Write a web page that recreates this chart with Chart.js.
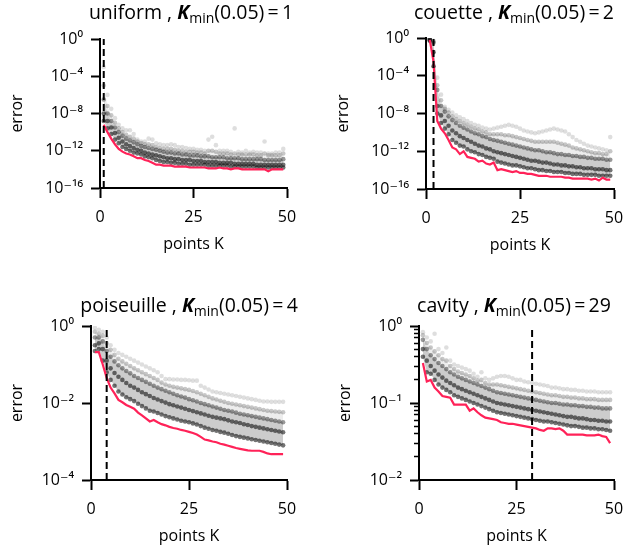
<!DOCTYPE html>
<html>
<head>
<meta charset="utf-8">
<script src="https://cdn.jsdelivr.net/npm/chart.js@4.4.1/dist/chart.umd.min.js"></script>
<style>
  body { margin: 0; background: #fff; }
  #page { position: relative; width: 624px; height: 546px; overflow: hidden; font-family: 'Open Sans', 'DejaVu Sans', sans-serif; }
  .panel { position: absolute; width: 312px; height: 273px; }
  .title { position: absolute; width: 300px; text-align: center; white-space: nowrap; font-size: 19.5px; line-height: 22px; color: #000; }
  .title sub { font-size: 14px; vertical-align: -4px; line-height: 0; }
</style>
</head>
<body>
<div id="page"></div>
<script>
// panel names and the K_min(0.05) value of each panel
const panelNames = ['uniform', 'couette', 'poiseuille', 'cavity'];
const kMin = [1, 2, 4, 29];

// number of points K (x values of every series)
const kPoints = [1,2,3,4,5,6,7,8,9,10,11,12,13,14,15,16,17,18,19,20,21,22,23,24,25,
  26,27,28,29,30,31,32,33,34,35,36,37,38,39,40,41,42,43,44,45,46,47,48,49];

// all errors are stored as log10(error)

// ---- uniform ----
const uniformBest = [-9.2,-10.0,-10.7,-11.3,-11.8,-12.1,-12.3,-12.4,-12.6,-12.8,
  -12.8,-13.0,-13.1,-13.3,-13.5,-13.5,-13.6,-13.6,-13.6,-13.7,
  -13.7,-13.7,-13.7,-13.8,-13.8,-13.8,-13.8,-13.8,-13.9,-13.9,
  -13.9,-13.8,-13.9,-13.9,-14.0,-13.9,-13.9,-14.0,-14.0,-14.0,
  -14.0,-14.0,-14.0,-14.0,-14.2,-14.0,-14.0,-14.0,-14.0];
const uniformLo = [-8.8,-9.6,-10.2,-10.8,-11.2,-11.6,-11.8,-12.0,-12.2,-12.3,
  -12.4,-12.6,-12.7,-12.8,-13.0,-13.1,-13.2,-13.2,-13.3,-13.3,
  -13.4,-13.4,-13.4,-13.5,-13.5,-13.5,-13.5,-13.5,-13.6,-13.6,
  -13.6,-13.6,-13.6,-13.6,-13.7,-13.7,-13.7,-13.7,-13.7,-13.7,
  -13.7,-13.8,-13.8,-13.8,-13.8,-13.8,-13.8,-13.8,-13.8];
const uniformMid = [-8.0,-8.8,-9.5,-10.1,-10.6,-11.0,-11.3,-11.5,-11.7,-11.9,
  -12.0,-12.2,-12.3,-12.4,-12.5,-12.6,-12.7,-12.8,-12.8,-12.9,
  -12.9,-13.0,-13.0,-13.0,-13.1,-13.1,-13.1,-13.2,-13.2,-13.2,
  -13.2,-13.3,-13.3,-13.3,-13.3,-13.4,-13.4,-13.4,-13.4,-13.4,
  -13.4,-13.5,-13.5,-13.5,-13.5,-13.5,-13.5,-13.5,-13.5];
const uniformHi = [-6.5,-8.0,-8.8,-9.5,-10.0,-10.4,-10.7,-10.9,-11.1,-11.3,
  -11.5,-11.6,-11.7,-11.8,-11.9,-12.0,-12.1,-12.2,-12.2,-12.3,
  -12.3,-12.4,-12.4,-12.5,-12.5,-12.5,-12.6,-12.6,-12.6,-12.7,
  -12.7,-12.7,-12.7,-12.8,-12.8,-12.8,-12.8,-12.9,-12.9,-12.9,
  -12.9,-12.9,-12.9,-13.0,-13.0,-13.0,-13.0,-13.0,-12.9];
const uniformUp = [-5.0,-7.2,-8.2,-9.0,-9.6,-10.0,-10.3,-10.5,-10.7,-11.0,
  -11.2,-11.3,-11.3,-11.4,-11.6,-11.7,-11.8,-11.8,-11.8,-11.9,
  -12.0,-12.0,-12.1,-12.1,-12.1,-12.2,-12.2,-12.3,-12.0,-12.0,
  -12.1,-12.3,-12.3,-12.3,-12.4,-12.3,-12.4,-12.4,-12.4,-12.4,
  -12.4,-12.5,-12.5,-12.3,-12.5,-12.5,-12.5,-12.5,-12.3];
const uniformTop = [-3.0,-6.0,-7.5,-8.5,-9.2,-9.6,-9.8,-9.8,-10.2,-10.8,
  -11.0,-11.0,-10.7,-10.8,-11.2,-11.3,-11.4,-11.4,-11.3,-11.4,
  -11.6,-11.6,-11.7,-11.8,-11.8,-11.9,-11.9,-12.0,-10.8,-10.5,
  -11.4,-12.0,-12.0,-12.0,-12.1,-9.6,-12.1,-12.2,-12.0,-12.2,
  -12.1,-12.2,-12.2,-11.0,-12.3,-12.3,-12.2,-12.2,-11.8];

// ---- couette ----
const couetteBest = [-0.2,-2.5,-8.8,-9.6,-10.1,-10.8,-11.6,-11.8,-12.3,-12.0,
  -12.6,-12.7,-12.8,-13.1,-13.0,-13.3,-13.4,-13.2,-14.0,-13.9,
  -14.0,-14.1,-14.2,-14.1,-14.3,-14.3,-14.4,-14.4,-14.5,-14.6,
  -14.6,-14.6,-14.7,-14.7,-14.7,-14.7,-14.8,-14.8,-14.9,-14.9,
  -14.9,-14.9,-14.9,-15.0,-14.9,-15.1,-14.8,-15.0,-15.0];
const couetteLo = [-0.3,-3.0,-8.0,-9.0,-9.6,-10.2,-10.8,-11.1,-11.4,-11.5,
  -11.8,-12.0,-12.1,-12.3,-12.4,-12.6,-12.7,-12.8,-13.1,-13.2,
  -13.3,-13.4,-13.5,-13.5,-13.6,-13.7,-13.8,-13.8,-13.9,-14.0,
  -14.0,-14.1,-14.1,-14.2,-14.2,-14.2,-14.3,-14.3,-14.4,-14.4,
  -14.4,-14.5,-14.5,-14.5,-14.5,-14.6,-14.6,-14.6,-14.6];
const couetteMid = [-0.2,-1.5,-7.2,-8.2,-8.8,-9.3,-9.8,-10.1,-10.4,-10.6,
  -10.8,-11.0,-11.2,-11.4,-11.5,-11.7,-11.8,-12.0,-12.1,-12.2,
  -12.3,-12.4,-12.5,-12.6,-12.7,-12.8,-12.9,-13.0,-13.0,-13.1,
  -13.2,-13.2,-13.3,-13.4,-13.4,-13.5,-13.5,-13.6,-13.6,-13.7,
  -13.7,-13.8,-13.8,-13.8,-13.9,-13.9,-13.9,-14.0,-14.0];
const couetteHi = [-0.1,-0.5,-5.5,-7.2,-7.8,-8.3,-8.7,-9.0,-9.3,-9.5,
  -9.7,-9.9,-10.1,-10.2,-10.4,-10.5,-10.7,-10.8,-10.9,-11.0,
  -11.1,-11.2,-11.3,-11.4,-11.5,-11.6,-11.7,-11.8,-11.9,-11.9,
  -12.0,-12.1,-12.1,-12.2,-12.3,-12.3,-12.4,-12.4,-12.5,-12.5,
  -12.6,-12.6,-12.7,-12.7,-12.8,-12.8,-12.8,-12.9,-12.9];
const couetteUp = [-0.1,-0.4,-5.0,-6.6,-7.5,-7.9,-8.3,-8.6,-8.8,-9.0,
  -9.2,-9.4,-9.6,-9.7,-9.9,-10.0,-10.2,-10.2,-10.2,-10.2,
  -10.3,-10.3,-10.4,-10.5,-10.6,-10.7,-10.8,-10.9,-11.0,-11.0,
  -11.0,-11.0,-11.0,-11.0,-11.1,-11.2,-11.3,-11.4,-11.6,-11.7,
  -11.8,-11.9,-12.0,-12.1,-12.2,-12.2,-12.3,-12.3,-12.0];
const couetteTop = [-0.05,-0.3,-4.2,-6.0,-7.3,-7.6,-7.9,-8.2,-8.4,-8.6,
  -8.8,-9.0,-9.2,-9.3,-9.5,-9.6,-9.7,-9.6,-9.5,-9.4,
  -9.3,-9.2,-9.3,-9.4,-9.6,-9.8,-9.9,-10.0,-10.1,-10.0,
  -9.9,-9.8,-9.7,-9.6,-9.7,-9.8,-9.9,-10.2,-10.5,-10.8,
  -11.0,-11.2,-11.4,-11.5,-11.6,-11.7,-11.8,-11.9,-10.5];

// ---- poiseuille ----
const poiseuilleBest = [-0.68,-0.68,-1.0,-1.35,-1.6,-1.75,-1.92,-1.98,-2.05,-2.1,
  -2.15,-2.25,-2.32,-2.4,-2.48,-2.44,-2.5,-2.55,-2.58,-2.62,
  -2.65,-2.67,-2.7,-2.72,-2.75,-2.78,-2.82,-2.88,-2.95,-2.97,
  -3.0,-3.02,-3.06,-3.08,-3.11,-3.14,-3.17,-3.19,-3.21,-3.23,
  -3.24,-3.24,-3.24,-3.27,-3.31,-3.33,-3.33,-3.33,-3.33];
const poiseuilleLo = [-0.65,-0.6,-0.9,-1.2,-1.4,-1.55,-1.7,-1.78,-1.85,-1.9,
  -1.95,-2.02,-2.08,-2.14,-2.2,-2.22,-2.26,-2.3,-2.34,-2.37,
  -2.4,-2.43,-2.46,-2.48,-2.5,-2.53,-2.56,-2.6,-2.64,-2.67,
  -2.7,-2.72,-2.75,-2.77,-2.8,-2.83,-2.86,-2.88,-2.9,-2.92,
  -2.94,-2.96,-2.98,-3.0,-3.02,-3.04,-3.06,-3.08,-3.1];
const poiseuilleMid = [-0.5,-0.45,-0.6,-0.9,-1.1,-1.22,-1.32,-1.4,-1.48,-1.55,
  -1.6,-1.66,-1.72,-1.77,-1.82,-1.87,-1.91,-1.95,-1.99,-2.03,
  -2.06,-2.09,-2.12,-2.15,-2.18,-2.21,-2.24,-2.27,-2.3,-2.33,
  -2.36,-2.38,-2.4,-2.42,-2.45,-2.48,-2.5,-2.52,-2.55,-2.57,
  -2.6,-2.62,-2.64,-2.66,-2.68,-2.7,-2.72,-2.74,-2.76];
const poiseuilleHi = [-0.3,-0.3,-0.4,-0.65,-0.8,-0.92,-1.02,-1.1,-1.17,-1.23,
  -1.3,-1.35,-1.4,-1.45,-1.5,-1.55,-1.6,-1.64,-1.68,-1.72,
  -1.76,-1.8,-1.83,-1.86,-1.9,-1.93,-1.96,-2.0,-2.03,-2.06,
  -2.09,-2.12,-2.15,-2.18,-2.2,-2.22,-2.25,-2.28,-2.3,-2.32,
  -2.34,-2.36,-2.38,-2.4,-2.42,-2.44,-2.46,-2.48,-2.5];
const poiseuilleUp = [-0.15,-0.2,-0.25,-0.45,-0.62,-0.75,-0.85,-0.92,-0.98,-1.04,
  -1.1,-1.15,-1.2,-1.25,-1.3,-1.35,-1.4,-1.47,-1.52,-1.55,
  -1.58,-1.6,-1.62,-1.64,-1.66,-1.69,-1.72,-1.76,-1.8,-1.84,
  -1.88,-1.91,-1.94,-1.97,-2.0,-2.02,-2.04,-2.06,-2.08,-2.1,
  -2.12,-2.14,-2.16,-2.18,-2.2,-2.21,-2.22,-2.23,-2.24];
const poiseuilleTop = [-0.05,-0.1,-0.15,-0.3,-0.5,-0.62,-0.7,-0.75,-0.8,-0.85,
  -0.9,-0.95,-1.0,-1.05,-1.1,-1.15,-1.2,-1.3,-1.38,-1.38,
  -1.39,-1.39,-1.4,-1.4,-1.41,-1.42,-1.42,-1.55,-1.6,-1.65,
  -1.7,-1.72,-1.74,-1.76,-1.78,-1.8,-1.82,-1.84,-1.86,-1.88,
  -1.9,-1.92,-1.94,-1.96,-1.96,-1.97,-1.97,-1.97,-1.97];

// ---- cavity ----
const cavityBest = [-0.48,-0.72,-0.70,-0.8,-0.85,-0.91,-0.92,-0.93,-1.02,-1.02,
  -1.02,-1.02,-1.1,-1.07,-1.12,-1.16,-1.19,-1.2,-1.21,-1.22,
  -1.25,-1.26,-1.27,-1.27,-1.28,-1.29,-1.3,-1.31,-1.32,-1.33,
  -1.35,-1.36,-1.33,-1.33,-1.34,-1.33,-1.36,-1.41,-1.41,-1.41,
  -1.41,-1.41,-1.42,-1.42,-1.42,-1.41,-1.43,-1.44,-1.52];
const cavityLo = [-0.4,-0.6,-0.62,-0.7,-0.76,-0.8,-0.83,-0.86,-0.9,-0.92,
  -0.94,-0.96,-0.98,-1.0,-1.02,-1.04,-1.06,-1.08,-1.1,-1.12,
  -1.13,-1.14,-1.15,-1.16,-1.17,-1.18,-1.19,-1.2,-1.21,-1.22,
  -1.23,-1.24,-1.24,-1.25,-1.26,-1.27,-1.28,-1.29,-1.3,-1.3,
  -1.31,-1.32,-1.32,-1.33,-1.33,-1.34,-1.34,-1.35,-1.36];
const cavityMid = [-0.3,-0.45,-0.52,-0.58,-0.63,-0.67,-0.71,-0.74,-0.77,-0.8,
  -0.82,-0.84,-0.86,-0.88,-0.9,-0.92,-0.94,-0.96,-0.98,-1.0,
  -1.01,-1.02,-1.03,-1.04,-1.05,-1.06,-1.07,-1.08,-1.09,-1.1,
  -1.11,-1.12,-1.13,-1.14,-1.15,-1.16,-1.17,-1.18,-1.18,-1.19,
  -1.2,-1.2,-1.21,-1.22,-1.22,-1.23,-1.23,-1.24,-1.24];
const cavityHi = [-0.18,-0.3,-0.38,-0.43,-0.48,-0.52,-0.56,-0.6,-0.63,-0.66,
  -0.68,-0.7,-0.72,-0.74,-0.76,-0.78,-0.8,-0.82,-0.84,-0.86,
  -0.87,-0.88,-0.89,-0.9,-0.91,-0.92,-0.93,-0.94,-0.95,-0.96,
  -0.97,-0.98,-0.99,-1.0,-1.0,-1.01,-1.02,-1.02,-1.03,-1.03,
  -1.04,-1.04,-1.05,-1.05,-1.06,-1.06,-1.07,-1.07,-1.07];
const cavityUp = [-0.12,-0.22,-0.28,-0.33,-0.38,-0.43,-0.45,-0.52,-0.56,-0.59,
  -0.61,-0.63,-0.65,-0.68,-0.71,-0.7,-0.74,-0.76,-0.76,-0.76,
  -0.77,-0.78,-0.79,-0.8,-0.81,-0.82,-0.83,-0.84,-0.85,-0.86,
  -0.87,-0.88,-0.89,-0.9,-0.9,-0.91,-0.92,-0.92,-0.93,-0.93,
  -0.94,-0.94,-0.95,-0.95,-0.95,-0.96,-0.96,-0.96,-0.96];
const cavityTop = [-0.08,-0.15,-0.2,-0.1,-0.3,-0.35,-0.28,-0.45,-0.5,-0.52,
  -0.54,-0.56,-0.58,-0.62,-0.66,-0.6,-0.68,-0.7,-0.68,-0.66,
  -0.65,-0.65,-0.66,-0.68,-0.7,-0.7,-0.72,-0.73,-0.74,-0.75,
  -0.76,-0.77,-0.78,-0.8,-0.8,-0.81,-0.82,-0.82,-0.83,-0.83,
  -0.84,-0.84,-0.85,-0.85,-0.85,-0.86,-0.86,-0.86,-0.86];

// axis ticks
const xTicks = [0, 25, 50];
const uniformTicks = [1e-16, 1e-12, 1e-8, 1e-4, 1];
const uniformTickLabels = ['10⁻¹⁶', '10⁻¹²', '10⁻⁸', '10⁻⁴', '10⁰'];
const poiseuilleTicks = [1e-4, 1e-2, 1];
const poiseuilleTickLabels = ['10⁻⁴', '10⁻²', '10⁰'];
const cavityTicks = [1e-2, 1e-1, 1];
const cavityTickLabels = ['10⁻²', '10⁻¹', '10⁰'];
const cavityMinorTicks = [0.02,0.03,0.04,0.05,0.06,0.07,0.08,0.09,0.2,0.3,0.4,0.5,0.6,0.7,0.8,0.9];

const FONT = "'Open Sans', 'DejaVu Sans', sans-serif";
const RED = 'rgb(255, 34, 88)';

// layout of each panel (canvas local pixels)
const panels = [
  { rows: { top: uniformTop, up: uniformUp, hi: uniformHi, mid: uniformMid, lo: uniformLo }, best: uniformBest,
    ticks: uniformTicks, labels: uniformTickLabels, minor: null,
    left: 0, top: 0, pad: { left: 5, right: 25, top: 39, bottom: 19 }, yWidth: 95, titleX: 191, titleY: 1 },
  { rows: { top: couetteTop, up: couetteUp, hi: couetteHi, mid: couetteMid, lo: couetteLo }, best: couetteBest,
    ticks: uniformTicks, labels: uniformTickLabels, minor: null,
    left: 312, top: 0, pad: { left: 19, right: 10, top: 38, bottom: 18 }, yWidth: 95, titleX: 514, titleY: 1 },
  { rows: { top: poiseuilleTop, up: poiseuilleUp, hi: poiseuilleHi, mid: poiseuilleMid, lo: poiseuilleLo }, best: poiseuilleBest,
    ticks: poiseuilleTicks, labels: poiseuilleTickLabels, minor: null,
    left: 0, top: 273, pad: { left: 5, right: 25, top: 53, bottom: 0 }, yWidth: 86, titleX: 189, titleY: 294 },
  { rows: { top: cavityTop, up: cavityUp, hi: cavityHi, mid: cavityMid, lo: cavityLo }, best: cavityBest,
    ticks: cavityTicks, labels: cavityTickLabels, minor: cavityMinorTicks,
    left: 312, top: 273, pad: { left: 21, right: 10, top: 53, bottom: 0 }, yWidth: 86, titleX: 514, titleY: 294 }
];

function toPoints(exps) {
  return exps.map((e, i) => ({ x: kPoints[i], y: Math.pow(10, e) }));
}

function dots(row, alpha, order) {
  return {
    type: 'scatter', data: toPoints(row), pointRadius: 2.3, pointBorderWidth: 0,
    backgroundColor: 'rgba(0,0,0,' + alpha + ')', borderColor: 'rgba(0,0,0,0)', order: order
  };
}

function band(row, target, alpha, order) {
  return {
    type: 'line', data: toPoints(row), borderWidth: 0, borderColor: 'rgba(0,0,0,0)',
    pointRadius: 0, fill: target === null ? false : { target: target },
    backgroundColor: 'rgba(0,0,0,' + alpha + ')', order: order
  };
}

const page = document.getElementById('page');

panels.forEach((p, idx) => {
  const box = document.createElement('div');
  box.className = 'panel';
  box.style.left = p.left + 'px';
  box.style.top = p.top + 'px';
  const canvas = document.createElement('canvas');
  canvas.width = 312;
  canvas.height = 273;
  box.appendChild(canvas);
  page.appendChild(box);

  const title = document.createElement('div');
  title.className = 'title';
  title.style.left = (p.titleX - 150) + 'px';
  title.style.top = p.titleY + 'px';
  title.innerHTML = panelNames[idx] + ' , <b><i>K</i></b><sub>min</sub>(0.05)\u2009=\u2009' + kMin[idx];
  page.appendChild(title);

  const yMin = p.ticks[0];
  const yMax = p.ticks[p.ticks.length - 1];

  const datasets = [
    // 0: dashed line at K_min
    { type: 'line', data: [{ x: kMin[idx], y: yMin }, { x: kMin[idx], y: yMax }],
      borderColor: '#000', borderWidth: 2, borderDash: [7, 4], pointRadius: 0, order: 0 },
    // 1: best (minimum) error
    { type: 'line', data: toPoints(p.best), borderColor: RED, borderWidth: 2.2,
      pointRadius: 0, tension: 0, order: 1 },
    // 2..6: sampled errors
    dots(p.rows.lo, 0.55, 2),
    dots(p.rows.mid, 0.55, 3),
    dots(p.rows.hi, 0.4, 4),
    dots(p.rows.up, 0.22, 5),
    dots(p.rows.top, 0.13, 6),
    // 7..9: shaded spread of the samples
    band(p.rows.lo, null, 0, 12),
    band(p.rows.hi, 7, 0.2, 11),
    band(p.rows.up, 8, 0.07, 10)
  ];

  const scales = {
    x: {
      type: 'linear', min: 0, max: 50,
      border: { display: true, color: '#000', width: 2 },
      grid: { drawOnChartArea: false, drawTicks: true, tickLength: 10, tickWidth: 2, tickColor: '#000' },
      ticks: { color: '#000', font: { family: FONT, size: 16 }, padding: 10, maxRotation: 0, autoSkip: false },
      afterBuildTicks: s => { s.ticks = xTicks.map(v => ({ value: v })); },
      afterFit: s => { s.height = 66; s.paddingLeft = 0; s.paddingRight = 0; },
      title: { display: true, text: 'points K', color: '#000', font: { family: FONT, size: 16, lineHeight: 1.2 }, padding: { top: 0, bottom: 0 } }
    },
    y: {
      type: 'logarithmic', min: yMin, max: yMax, position: 'left', weight: 1,
      border: { display: true, color: '#000', width: 2 },
      grid: { drawOnChartArea: false, drawTicks: true, tickLength: 9, tickWidth: 2, tickColor: '#000' },
      ticks: { color: '#000', font: { family: FONT, size: 16 }, padding: 8, autoSkip: false,
        callback: (v, i) => p.labels[i] },
      afterBuildTicks: s => { s.ticks = p.ticks.map(v => ({ value: v })); },
      afterFit: s => { s.width = p.yWidth; s.paddingTop = 0; s.paddingBottom = 0; },
      title: { display: true, text: 'error', color: '#000', font: { family: FONT, size: 16, lineHeight: 1.2 }, padding: { top: 3, bottom: 0 } }
    }
  };
  if (p.minor) {
    scales.yMinor = {
      type: 'logarithmic', min: yMin, max: yMax, position: 'left', weight: 0,
      border: { display: false },
      grid: { drawOnChartArea: false, drawTicks: true, tickLength: 5, tickWidth: 1.5, tickColor: '#000' },
      ticks: { display: false },
      afterBuildTicks: s => { s.ticks = p.minor.map(v => ({ value: v })); },
      afterFit: s => { s.width = 0; }
    };
  }

  new Chart(canvas.getContext('2d'), {
    type: 'scatter',
    data: { datasets: datasets },
    options: {
      responsive: false, animation: false, devicePixelRatio: 1,
      layout: { padding: p.pad },
      plugins: { legend: { display: false }, tooltip: { enabled: false }, title: { display: false } },
      scales: scales
    }
  });
});
</script>
</body>
</html>
